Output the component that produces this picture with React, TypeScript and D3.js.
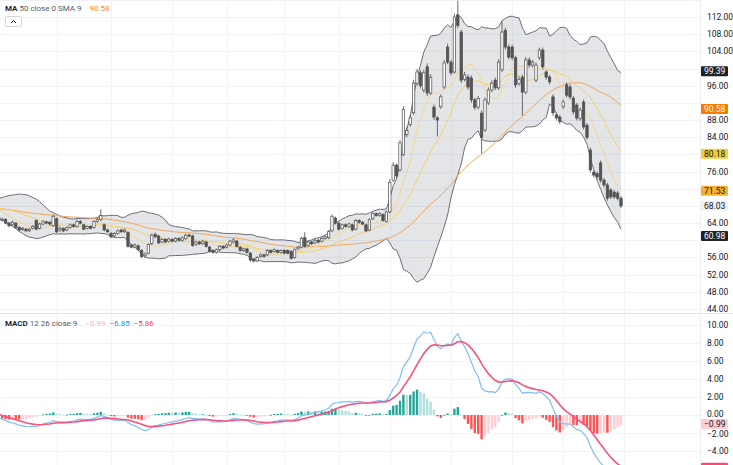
import React, { useEffect, useRef } from 'react'
import * as d3 from 'd3'

// closes before the visible window (only used to warm up the indicators)
const priorCloses = [
  68.2, 68.6, 69.0, 68.4, 67.8, 68.2, 68.9, 69.3, 68.7, 68.0,
  67.4, 67.9, 68.5, 68.1, 67.6, 67.0, 66.6, 67.2, 67.8, 67.3,
  66.8, 66.2, 65.8, 66.4, 66.0, 65.4, 65.0, 65.6, 66.2, 65.8,
  66.4, 66.9, 66.5, 67.1, 67.6, 67.2, 67.8, 68.3, 67.9, 68.4,
  68.8, 68.3, 68.9, 69.2, 68.6, 68.0, 67.2, 66.6, 66.0, 65.6,
]

const opens = [
  65.2, 64.6, 64.9, 64.0, 63.6, 64.0, 63.0, 62.5, 62.6, 62.2,
  62.8, 64.6, 62.8, 63.8, 64.3, 64.2, 63.4, 65.0, 62.4, 62.8,
  62.4, 63.0, 63.6, 63.2, 64.4, 63.6, 62.8, 63.2, 63.0, 64.4,
  64.8, 63.6, 62.4, 61.6, 61.0, 61.6, 62.4, 62.0, 61.8, 58.9,
  58.4, 58.7, 57.6, 56.4, 57.0, 59.2, 61.4, 61.0, 59.6, 60.2,
  59.8, 60.2, 59.8, 60.4, 60.0, 60.4, 61.2, 61.0, 59.0, 59.6,
  59.2, 59.6, 58.4, 57.6, 57.2, 57.8, 58.6, 58.4, 58.9, 59.6,
  59.8, 58.4, 57.6, 58.0, 57.0, 55.6, 55.2, 56.2, 56.6, 56.6,
  57.6, 57.4, 57.6, 57.2, 57.6, 57.6, 57.4, 56.0, 58.0, 58.4,
  60.6, 58.8, 59.6, 59.4, 60.0, 59.8, 60.4, 60.6, 62.2, 65.2,
  64.0, 62.8, 63.6, 63.2, 63.6, 62.6, 64.6, 64.2, 63.6, 62.4,
  65.0, 66.2, 65.8, 66.0, 64.4, 66.6, 74.0, 77.5, 76.4, 80.0,
  84.6, 87.0, 89.7, 96.6, 99.0, 95.0, 100.4, 94.3, 91.0, 88.5,
  91.1, 95.7, 105.0, 101.5, 99.2, 112.5, 108.5, 97.5, 98.0, 97.8,
  92.7, 91.0, 89.6, 85.7, 92.0, 95.0, 97.3, 95.5, 99.7, 108.9,
  105.0, 105.0, 102.5, 96.5, 98.0, 94.5, 102.0, 100.8, 97.3, 102.5,
  104.3, 99.2, 98.0, 93.4, 89.2, 88.7, 91.1, 96.2, 95.7, 93.1,
  91.5, 88.3, 92.2, 86.8, 81.0, 75.8, 75.5, 78.0, 74.0, 72.9,
  71.7, 71.2, 71.0, 69.8,
]

const highs = [
  65.6, 65.3, 65.1, 64.3, 64.6, 64.2, 63.3, 63.1, 62.9, 62.9,
  63.6, 64.9, 64.1, 64.7, 64.6, 64.5, 66.0, 65.3, 63.2, 63.0,
  63.2, 63.9, 63.9, 64.8, 64.7, 63.9, 63.5, 63.5, 64.7, 65.2,
  67.2, 63.9, 62.7, 61.9, 61.9, 62.5, 62.7, 62.8, 62.1, 59.2,
  59.3, 59.0, 57.9, 57.2, 59.3, 61.6, 61.8, 61.3, 60.5, 60.5,
  60.6, 60.5, 60.7, 60.7, 60.9, 61.5, 61.6, 61.3, 59.9, 59.9,
  60.1, 59.9, 58.7, 57.9, 58.1, 58.9, 58.9, 59.2, 60.1, 60.5,
  60.1, 58.7, 58.3, 58.3, 57.3, 55.9, 56.3, 56.9, 56.9, 57.9,
  57.9, 58.1, 57.9, 57.9, 57.9, 57.9, 57.7, 58.1, 58.7, 60.8,
  61.9, 59.9, 59.9, 60.3, 60.3, 60.7, 61.1, 62.3, 66.0, 65.5,
  64.3, 63.9, 63.9, 64.1, 63.9, 64.9, 64.9, 64.5, 63.9, 65.1,
  66.5, 66.5, 66.5, 66.3, 66.9, 74.2, 78.2, 77.9, 83.3, 91.2,
  86.4, 89.2, 97.4, 99.9, 99.6, 99.7, 101.2, 98.7, 91.6, 88.9,
  94.0, 102.0, 105.8, 102.0, 112.8, 115.8, 109.0, 99.2, 98.6, 98.4,
  93.2, 93.6, 90.2, 93.3, 95.6, 97.2, 97.9, 102.2, 111.0, 109.5,
  105.6, 105.6, 103.0, 98.2, 98.6, 102.7, 102.6, 102.0, 101.4, 104.9,
  104.9, 99.7, 98.5, 94.0, 89.7, 89.2, 92.8, 96.8, 96.3, 93.6,
  92.0, 90.9, 92.8, 87.3, 81.6, 76.3, 76.0, 78.6, 74.5, 73.4,
  72.2, 71.7, 71.5, 70.3,
]

const lows = [
  64.2, 64.3, 63.7, 63.0, 63.3, 62.7, 62.1, 62.2, 61.9, 61.9,
  62.5, 62.3, 62.5, 63.5, 63.7, 63.4, 63.1, 61.7, 62.0, 61.9,
  62.1, 62.7, 62.9, 62.9, 63.7, 62.3, 62.5, 62.5, 62.7, 64.1,
  64.5, 62.1, 61.7, 60.5, 60.7, 61.3, 61.7, 61.7, 58.3, 58.1,
  58.1, 57.5, 55.8, 56.0, 56.7, 58.9, 60.5, 59.1, 59.3, 59.3,
  59.5, 59.5, 59.5, 59.7, 59.7, 60.1, 60.7, 58.5, 58.7, 58.9,
  58.9, 58.3, 57.1, 56.9, 56.9, 57.5, 57.9, 58.1, 58.6, 59.3,
  58.3, 57.3, 57.3, 56.9, 55.0, 54.8, 54.9, 55.9, 55.9, 56.3,
  56.9, 57.1, 56.9, 56.9, 56.7, 56.7, 55.5, 55.7, 57.7, 58.1,
  58.3, 58.5, 58.9, 59.1, 59.3, 59.5, 60.1, 60.3, 61.9, 63.7,
  62.3, 62.5, 62.9, 62.9, 62.1, 62.3, 63.9, 63.5, 61.9, 62.1,
  64.7, 65.5, 65.5, 64.3, 64.1, 66.3, 73.6, 74.4, 76.0, 79.6,
  84.0, 86.4, 89.2, 96.0, 95.4, 94.4, 93.6, 93.8, 88.0, 84.2,
  90.6, 95.2, 101.0, 98.4, 98.8, 109.4, 96.6, 97.0, 95.1, 92.0,
  90.4, 90.5, 80.2, 85.2, 91.5, 94.5, 95.0, 95.0, 99.2, 104.4,
  102.1, 101.9, 95.5, 96.0, 89.0, 94.0, 100.2, 100.3, 96.8, 102.0,
  99.8, 97.4, 96.3, 89.0, 87.9, 87.1, 90.6, 93.2, 92.8, 89.3,
  87.9, 87.8, 85.8, 83.4, 75.8, 74.6, 74.2, 73.4, 72.3, 69.2,
  69.6, 69.6, 69.3, 67.5,
]

const closes = [
  64.6, 64.9, 64.0, 63.4, 64.2, 63.0, 62.4, 62.8, 62.2, 62.6,
  63.2, 62.6, 63.8, 64.3, 64.0, 63.8, 65.6, 62.0, 62.8, 62.2,
  62.9, 63.6, 63.2, 64.4, 64.0, 62.6, 63.2, 62.8, 64.4, 64.8,
  65.8, 62.4, 62.0, 60.8, 61.6, 62.2, 62.0, 62.4, 58.6, 58.4,
  58.9, 57.8, 56.2, 56.8, 59.0, 61.2, 60.8, 59.4, 60.2, 59.6,
  60.3, 59.8, 60.4, 60.0, 60.6, 61.2, 61.0, 58.8, 59.6, 59.2,
  59.8, 58.6, 57.4, 57.2, 57.8, 58.6, 58.2, 58.9, 59.8, 60.1,
  58.6, 57.6, 58.0, 57.2, 55.4, 55.2, 56.0, 56.6, 56.2, 57.6,
  57.2, 57.8, 57.2, 57.6, 57.0, 57.0, 55.8, 57.8, 58.4, 60.4,
  58.6, 59.6, 59.2, 60.0, 59.6, 60.4, 60.8, 62.0, 65.6, 64.0,
  62.6, 63.6, 63.2, 63.8, 62.4, 64.6, 64.2, 63.8, 62.2, 64.8,
  66.2, 65.8, 66.2, 64.6, 66.6, 73.5, 77.5, 75.0, 82.7, 90.5,
  85.6, 88.5, 96.6, 99.2, 96.0, 99.0, 94.3, 98.0, 88.7, 88.0,
  93.4, 101.3, 101.5, 99.0, 112.0, 110.0, 97.3, 98.5, 95.7, 92.7,
  91.0, 93.0, 84.0, 92.7, 95.0, 96.6, 95.5, 101.5, 108.5, 105.0,
  102.7, 102.5, 96.2, 97.5, 94.5, 102.0, 100.8, 101.5, 100.8, 104.3,
  100.4, 98.0, 96.9, 89.7, 88.5, 87.7, 92.2, 93.8, 93.4, 89.9,
  88.5, 90.3, 86.4, 84.0, 76.4, 75.2, 74.8, 74.0, 72.9, 69.8,
  70.1, 70.1, 69.8, 68.03,
]

// bar indices where a new month starts (vertical grid)
const monthStarts = [17, 33, 51, 67, 84, 100, 115, 133, 151, 166, 184]

const priceTicks = [44, 48, 52, 56, 60, 64, 68, 72, 76, 80, 84, 88, 92, 96, 100, 104, 108, 112, 116]
const macdTicks = [-4, -2, 0, 2, 4, 6, 8, 10]

// last values shown on the scales (as printed on the chart)
const priceMarks = [99.39, 90.58, 80.18, 71.53, 68.03, 60.98]
const macdHistLast = -0.99
const macdLast = -6.85
const signalLast = -5.86

const W = 733
const H = 465
const AXIS_X = 700
const SPLIT = 313

const sma = (vals: number[], n: number) =>
  vals.map((_, i) => (i < n - 1 ? NaN : (d3.sum(vals.slice(i - n + 1, i + 1)) / n)))

const stdev = (vals: number[], n: number) =>
  vals.map((_, i) => {
    if (i < n - 1) return NaN
    const w = vals.slice(i - n + 1, i + 1)
    const m = d3.sum(w) / n
    return Math.sqrt(d3.sum(w, v => (v - m) * (v - m)) / n)
  })

const ema = (vals: number[], n: number) => {
  const k = 2 / (n + 1)
  let prev = vals[0]
  return vals.map((v, i) => (prev = i === 0 ? v : v * k + prev * (1 - k)))
}

const fmt = (v: number) => (v < 0 ? '\u2212' + Math.abs(v).toFixed(2) : v.toFixed(2))

// move a tick label off a value box, or drop it if it sits right under one
const placeTick = (y: number, boxes: number[]) => {
  let yy = y
  for (const b of boxes) {
    const d = yy - b
    if (Math.abs(d) < 7) return null
    if (Math.abs(d) < 10) yy = b + Math.sign(d) * 10
  }
  return yy
}

export default function App() {
  const ref = useRef<SVGSVGElement>(null)

  useEffect(() => {
    const svg = d3.select(ref.current)
    svg.selectAll('*').remove()
    const font = "Roboto, 'Liberation Sans', sans-serif"

    const P = priorCloses.length
    const all = priorCloses.concat(closes)
    const n = closes.length

    const x = d3.scaleLinear().domain([0, n - 1]).range([621 - (n - 1) * 3.4, 621])
    const xa = (j: number) => x(j - P)
    const yP = d3.scaleLinear().domain([44, 112]).range([309, 17])
    const yM = d3.scaleLinear().domain([-4, 10]).range([451, 325])

    // indicators
    const ma50 = sma(all, 50)
    const basis = sma(all, 20)
    const sd = stdev(all, 20)
    const upper = basis.map((b, i) => b + 2 * sd[i])
    const lower = basis.map((b, i) => b - 2 * sd[i])
    const ma9 = sma(all, 9)
    const e12 = ema(all, 12)
    const e26 = ema(all, 26)
    const macd = e12.map((v, i) => v - e26[i])
    const signal = ema(macd, 9)
    const hist = macd.map((v, i) => v - signal[i])

    svg.append('rect').attr('width', W).attr('height', H).attr('fill', '#ffffff')

    const defs = svg.append('defs')
    defs.append('clipPath').attr('id', 'clipP').append('rect')
      .attr('x', 0).attr('y', 0).attr('width', AXIS_X).attr('height', SPLIT)
    defs.append('clipPath').attr('id', 'clipM').append('rect')
      .attr('x', 0).attr('y', SPLIT + 1).attr('width', AXIS_X).attr('height', H - SPLIT)

    // grid
    const grid = svg.append('g').attr('stroke', '#f0f3fa').attr('stroke-width', 1)
    priceTicks.forEach(t => {
      const y = Math.round(yP(t)) + 0.5
      if (y > 0 && y < SPLIT) grid.append('line').attr('x1', 0).attr('x2', AXIS_X).attr('y1', y).attr('y2', y)
    })
    macdTicks.forEach(t => {
      const y = Math.round(yM(t)) + 0.5
      grid.append('line').attr('x1', 0).attr('x2', AXIS_X).attr('y1', y).attr('y2', y)
    })
    monthStarts.forEach(b => {
      const xx = Math.round(x(b)) + 0.5
      grid.append('line').attr('x1', xx).attr('x2', xx).attr('y1', 0).attr('y2', H)
    })

    // ---- price pane
    const gp = svg.append('g').attr('clip-path', 'url(#clipP)')
    const idx = d3.range(P - 2, all.length)

    gp.append('path')
      .datum(idx)
      .attr('d', d3.area<number>().x(j => xa(j)).y0(j => yP(lower[j])).y1(j => yP(upper[j]))
        .defined(j => !isNaN(upper[j])))
      .attr('fill', 'rgba(120,123,134,0.2)')

    const line = (arr: number[]) =>
      d3.line<number>().x(j => xa(j)).y(j => yP(arr[j])).defined(j => !isNaN(arr[j]))(idx)

    gp.append('path').attr('d', line(upper)).attr('fill', 'none').attr('stroke', '#6b6e78').attr('stroke-width', 1)
    gp.append('path').attr('d', line(lower)).attr('fill', 'none').attr('stroke', '#6b6e78').attr('stroke-width', 1)
    gp.append('path').attr('d', line(ma50)).attr('fill', 'none').attr('stroke', '#f2a65a').attr('stroke-width', 1)
    gp.append('path').attr('d', line(basis)).attr('fill', 'none').attr('stroke', '#f5cf6a').attr('stroke-width', 1)
    gp.append('path').attr('d', line(ma9)).attr('fill', 'none').attr('stroke', '#f8d58a').attr('stroke-width', 1)

    const candles = gp.append('g')
    closes.forEach((c, i) => {
      const o = opens[i]
      const cx = x(i)
      const up = c >= o
      candles.append('line')
        .attr('x1', cx).attr('x2', cx)
        .attr('y1', yP(highs[i])).attr('y2', yP(lows[i]))
        .attr('stroke', '#5a5a5a').attr('stroke-width', 0.9)
      const top = yP(Math.max(o, c))
      const h = Math.max(1, yP(Math.min(o, c)) - top)
      candles.append('rect')
        .attr('x', cx - 1.2).attr('y', top)
        .attr('width', 2.4).attr('height', h)
        .attr('fill', up ? '#ffffff' : '#555555')
        .attr('stroke', '#4d4d4d').attr('stroke-width', 0.7)
    })

    // separator
    svg.append('line').attr('x1', 0).attr('x2', W).attr('y1', SPLIT + 0.5).attr('y2', SPLIT + 0.5)
      .attr('stroke', '#e0e3eb')

    // ---- MACD pane
    const gm = svg.append('g').attr('clip-path', 'url(#clipM)')
    for (let j = P; j < all.length; j++) {
      const h = hist[j]
      const prev = hist[j - 1]
      const color = h >= 0 ? (prev < h ? '#26a69a' : '#b2dfdb') : (prev < h ? '#ffcdd2' : '#ff5252')
      const y0 = yM(0)
      const y1 = yM(h)
      gm.append('rect')
        .attr('x', xa(j) - 1.2).attr('width', 2.4)
        .attr('y', Math.min(y0, y1)).attr('height', Math.max(0.8, Math.abs(y1 - y0)))
        .attr('fill', color)
    }
    const mline = (arr: number[]) => d3.line<number>().x(j => xa(j)).y(j => yM(arr[j]))(idx)
    gm.append('path').attr('d', mline(macd)).attr('fill', 'none').attr('stroke', '#7fbef5').attr('stroke-width', 1.2)
    gm.append('path').attr('d', mline(signal)).attr('fill', 'none').attr('stroke', '#f7527e').attr('stroke-width', 1.6)

    // ---- scales
    svg.append('line').attr('x1', AXIS_X + 0.5).attr('x2', AXIS_X + 0.5).attr('y1', 0).attr('y2', H)
      .attr('stroke', '#eef0f3')

    const axis = svg.append('g').attr('font-family', font).attr('font-size', 8.5).attr('fill', '#131722')
    const priceBoxes = priceMarks.map(v => yP(v))
    priceTicks.forEach(t => {
      const y = placeTick(yP(t), priceBoxes)
      if (y === null || y < 6 || y > SPLIT - 4) return
      axis.append('text').attr('x', 707).attr('y', y + 3).text(fmt(t))
    })
    const macdBoxes = [yM(macdHistLast)]
    macdTicks.forEach(t => {
      const y = placeTick(yM(t), macdBoxes)
      if (y === null) return
      axis.append('text').attr('x', 707).attr('y', y + 3).text(fmt(t))
    })

    const markBg = ['#1e222d', '#f57c00', '#f2cf3c', '#f6b12e', '#eef0f4', '#1e222d']
    const markFg = ['#ffffff', '#ffffff', '#131722', '#131722', '#131722', '#ffffff']
    priceMarks.forEach((v, i) => {
      const y = yP(v)
      axis.append('rect').attr('x', 701).attr('y', y - 5).attr('width', 27).attr('height', 10)
        .attr('rx', 1).attr('fill', markBg[i])
      axis.append('text').attr('x', 704).attr('y', y + 3).attr('fill', markFg[i]).text(fmt(v))
    })
    const yh = yM(macdHistLast)
    axis.append('rect').attr('x', 701).attr('y', yh - 5).attr('width', 27).attr('height', 10)
      .attr('rx', 1).attr('fill', '#ffcdd2')
    axis.append('text').attr('x', 704).attr('y', yh + 3).attr('fill', '#131722').text(fmt(macdHistLast))
    // signal box sits just below the visible area; only its top edge shows
    axis.append('rect').attr('x', 701).attr('y', yM(signalLast) - 5).attr('width', 27).attr('height', 10)
      .attr('rx', 1).attr('fill', '#ff4a78')

    // ---- legends
    const lg = svg.append('g').attr('font-family', font).attr('font-size', 8)
    const t1 = lg.append('text').attr('x', 5).attr('y', 11).attr('fill', '#131722')
    t1.append('tspan').attr('font-weight', 600).text('MA')
    t1.append('tspan').attr('fill', '#555963').text(' 50 close 0 SMA 9')
    t1.append('tspan').attr('fill', '#f28c28').attr('dx', 8).text(fmt(priceMarks[1]))

    lg.append('rect').attr('x', 5.5).attr('y', 16.5).attr('width', 16).attr('height', 10).attr('rx', 2)
      .attr('fill', '#ffffff').attr('stroke', '#d1d4dc')
    lg.append('path').attr('d', 'M11 23 L13.5 20.5 L16 23').attr('fill', 'none')
      .attr('stroke', '#131722').attr('stroke-width', 1)

    const t2 = lg.append('text').attr('x', 5).attr('y', 326).attr('fill', '#131722')
    t2.append('tspan').attr('font-weight', 600).text('MACD')
    t2.append('tspan').attr('fill', '#555963').text(' 12 26 close 9')
    t2.append('tspan').attr('fill', '#f8b4bd').attr('dx', 8).text(fmt(macdHistLast))
    t2.append('tspan').attr('fill', '#2196f3').attr('dx', 4).text(fmt(macdLast))
    t2.append('tspan').attr('fill', '#f23c6a').attr('dx', 4).text(fmt(signalLast))
  }, [])

  return (
    <svg ref={ref} width={W} height={H}
      style={{ position: 'absolute', left: 0, top: 0, display: 'block' }} />
  )
}
